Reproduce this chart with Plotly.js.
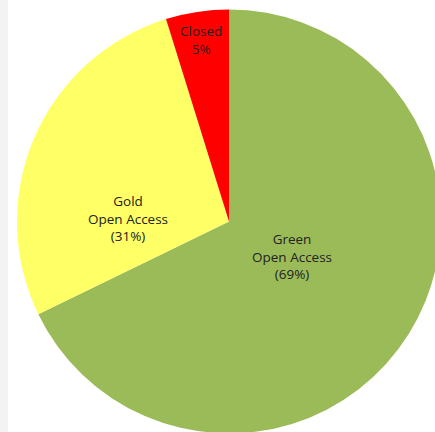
<!DOCTYPE html>
<html>
<head>
<meta charset="utf-8">
<script src="https://cdn.plot.ly/plotly-3.0.1.min.js"></script>
<style>
html,body{margin:0;padding:0;overflow:hidden;background:#fff;}
#chart{width:470px;height:445px;}
</style>
</head>
<body>
<div id="chart"></div>
<script>
var categories = ["Green Open Access", "Gold Open Access", "Closed"];
var values = [67.8, 27.4, 4.8];
var labelTexts = ["Green<br>Open Access<br>(69%)", "Gold<br>Open Access<br>(31%)", "Closed<br>5%"];
var colors = ["#9BBB59", "#FFFF66", "#FF0000"];

// label anchor positions (paper fractions) for the data labels
var labelX = [0.6213, 0.2723, 0.4277];
var labelY = [0.4225, 0.5080, 0.9101];

var W = 470, H = 445;

var trace = {
  type: "pie",
  labels: categories,
  values: values,
  text: labelTexts,
  textinfo: "none",
  hoverinfo: "label+percent",
  sort: false,
  direction: "clockwise",
  rotation: 0,
  marker: {colors: colors, line: {width: 0}},
  domain: {x: [17/W, 441/W], y: [11.5/H, 435.5/H]},
  showlegend: false
};

var annotations = labelTexts.map(function (t, i) {
  return {
    text: t, xref: "paper", yref: "paper", x: labelX[i], y: labelY[i],
    xanchor: "center", yanchor: "middle", showarrow: false, align: "center",
    font: {family: "Open Sans, Noto Sans, sans-serif", size: 13.5, color: "#222"}
  };
});

var layout = {
  width: W,
  height: H,
  margin: {l: 0, r: 0, t: 0, b: 0},
  paper_bgcolor: "#ffffff",
  showlegend: false,
  annotations: annotations,
  shapes: [{type: "rect", xref: "paper", yref: "paper", x0: 0, x1: 8/W, y0: 0, y1: 1,
            fillcolor: "#f3f3f3", line: {width: 0}, layer: "below"}]
};

Plotly.newPlot("chart", [trace], layout, {staticPlot: true, displayModeBar: false});
</script>
</body>
</html>
